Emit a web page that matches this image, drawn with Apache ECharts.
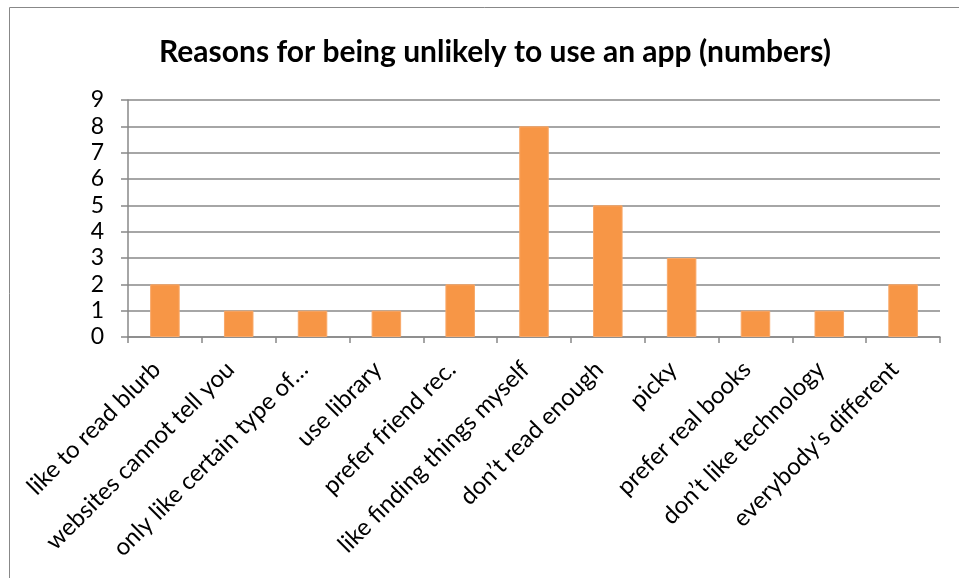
<!DOCTYPE html>
<html>
<head>
<meta charset="utf-8">
<script src="https://cdn.jsdelivr.net/npm/echarts@6/dist/echarts.min.js"></script>
<style>
html, body { margin: 0; padding: 0; background: #fff; }
#main { width: 959px; height: 578px; }
</style>
</head>
<body>
<div id="main"></div>
<script>
var categories = ['like to read blurb', 'websites cannot tell you', 'only like certain type of\u2026',
    'use library', 'prefer friend rec.', 'like finding things myself', 'don\u2019t read enough',
    'picky', 'prefer real books', 'don\u2019t like technology', 'everybody\'s different'];
var counts = [2, 1, 1, 1, 2, 8, 5, 3, 1, 1, 2];
var yTicks = [0, 9, 1]; // min, max, step

var myChart = echarts.init(document.getElementById('main'));
var font = 'Lato, "Open Sans", sans-serif';

var option = {
    animation: false,
    title: {
        text: 'Reasons for being unlikely to use an app (numbers)',
        left: 490,
        textAlign: 'center',
        top: 32,
        textStyle: { fontFamily: font, fontSize: 30, fontWeight: 'bold', color: '#000' }
    },
    graphic: [{
        type: 'rect',
        shape: { x: 9.5, y: 7.5, width: 960, height: 580 },
        style: { fill: 'none', stroke: '#888', lineWidth: 1 }
    }],
    grid: { left: 128, right: 19, top: 100, bottom: 241 },
    xAxis: {
        type: 'category',
        data: categories,
        axisLine: { lineStyle: { color: '#888', width: 1.5 } },
        axisTick: { show: true, length: 6, alignWithLabel: false, lineStyle: { color: '#888', width: 1.5 } },
        axisLabel: { rotate: 45, margin: 20, padding: [0, 12, 0, 0], interval: 0, color: '#000', fontFamily: font, fontSize: 24 }
    },
    yAxis: {
        type: 'value',
        min: yTicks[0],
        max: yTicks[1],
        interval: yTicks[2],
        axisLine: { show: true, lineStyle: { color: '#888', width: 1.5 } },
        axisTick: { show: true, length: 7, lineStyle: { color: '#888', width: 1.5 } },
        splitLine: { lineStyle: { color: '#888', width: 1.5 } },
        axisLabel: { margin: 24, color: '#000', fontFamily: font, fontSize: 23 }
    },
    series: [{
        type: 'bar',
        data: counts,
        barWidth: '40%',
        itemStyle: { color: '#F79646', borderColor: '#F9A868', borderWidth: 1 }
    }]
};

myChart.setOption(option, true);
</script>
</body>
</html>
